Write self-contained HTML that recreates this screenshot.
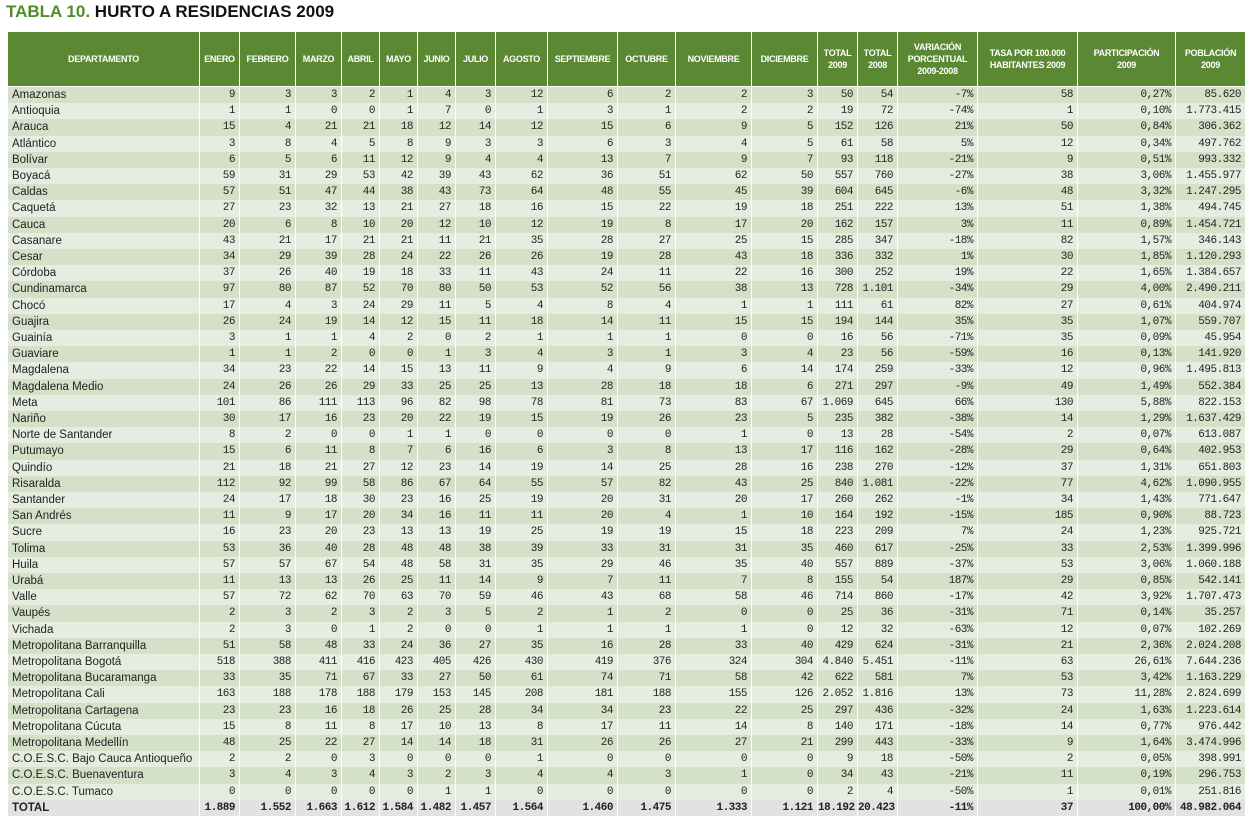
<!DOCTYPE html>
<html><head><meta charset="utf-8">
<style>
body{margin:0;width:1251px;height:819px;background:#fff;position:relative;overflow:hidden;font-family:"Liberation Sans",sans-serif}
#title{position:absolute;left:6px;top:2px;font-size:17px;font-weight:bold;color:#111;white-space:nowrap}
#title span{color:#4f8a2b}
.c{position:absolute;box-sizing:border-box;border-right:1px solid #fff;white-space:nowrap;overflow:hidden}
.h{background:#5a8833;color:#fff;font-weight:bold;font-size:9px;display:flex;align-items:center;justify-content:center;text-align:center;line-height:12px;letter-spacing:-0.3px}
.b{font-size:11px;text-align:right;padding-right:4px;line-height:16px;color:#222;font-family:"Liberation Mono",monospace;letter-spacing:-0.5px}
.n{font-size:11.5px;text-align:left;padding-left:4px;line-height:16px;color:#222;font-family:"Liberation Sans",sans-serif;letter-spacing:0}
.t{font-weight:bold}
</style></head><body>
<div id="title"><span>TABLA 10.</span> HURTO A RESIDENCIAS 2009</div>
<div id="tbl"></div>
<script>
const headers=["DEPARTAMENTO","ENERO","FEBRERO","MARZO","ABRIL","MAYO","JUNIO","JULIO","AGOSTO","SEPTIEMBRE","OCTUBRE","NOVIEMBRE","DICIEMBRE","TOTAL<br>2009","TOTAL<br>2008","VARIACIÓN<br>PORCENTUAL<br>2009-2008","TASA POR 100.000<br>HABITANTES 2009","PARTICIPACIÓN<br>2009","POBLACIÓN<br>2009"];
const rows=`Amazonas|9 3 3 2 1 4 3 12 6 2 2 3 50 54 -7% 58 0,27% 85.620
Antioquia|1 1 0 0 1 7 0 1 3 1 2 2 19 72 -74% 1 0,10% 1.773.415
Arauca|15 4 21 21 18 12 14 12 15 6 9 5 152 126 21% 50 0,84% 306.362
Atlántico|3 8 4 5 8 9 3 3 6 3 4 5 61 58 5% 12 0,34% 497.762
Bolívar|6 5 6 11 12 9 4 4 13 7 9 7 93 118 -21% 9 0,51% 993.332
Boyacá|59 31 29 53 42 39 43 62 36 51 62 50 557 760 -27% 38 3,06% 1.455.977
Caldas|57 51 47 44 38 43 73 64 48 55 45 39 604 645 -6% 48 3,32% 1.247.295
Caquetá|27 23 32 13 21 27 18 16 15 22 19 18 251 222 13% 51 1,38% 494.745
Cauca|20 6 8 10 20 12 10 12 19 8 17 20 162 157 3% 11 0,89% 1.454.721
Casanare|43 21 17 21 21 11 21 35 28 27 25 15 285 347 -18% 82 1,57% 346.143
Cesar|34 29 39 28 24 22 26 26 19 28 43 18 336 332 1% 30 1,85% 1.120.293
Córdoba|37 26 40 19 18 33 11 43 24 11 22 16 300 252 19% 22 1,65% 1.384.657
Cundinamarca|97 80 87 52 70 80 50 53 52 56 38 13 728 1.101 -34% 29 4,00% 2.490.211
Chocó|17 4 3 24 29 11 5 4 8 4 1 1 111 61 82% 27 0,61% 404.974
Guajira|26 24 19 14 12 15 11 18 14 11 15 15 194 144 35% 35 1,07% 559.707
Guainía|3 1 1 4 2 0 2 1 1 1 0 0 16 56 -71% 35 0,09% 45.954
Guaviare|1 1 2 0 0 1 3 4 3 1 3 4 23 56 -59% 16 0,13% 141.920
Magdalena|34 23 22 14 15 13 11 9 4 9 6 14 174 259 -33% 12 0,96% 1.495.813
Magdalena Medio|24 26 26 29 33 25 25 13 28 18 18 6 271 297 -9% 49 1,49% 552.384
Meta|101 86 111 113 96 82 98 78 81 73 83 67 1.069 645 66% 130 5,88% 822.153
Nariño|30 17 16 23 20 22 19 15 19 26 23 5 235 382 -38% 14 1,29% 1.637.429
Norte de Santander|8 2 0 0 1 1 0 0 0 0 1 0 13 28 -54% 2 0,07% 613.087
Putumayo|15 6 11 8 7 6 16 6 3 8 13 17 116 162 -28% 29 0,64% 402.953
Quindío|21 18 21 27 12 23 14 19 14 25 28 16 238 270 -12% 37 1,31% 651.803
Risaralda|112 92 99 58 86 67 64 55 57 82 43 25 840 1.081 -22% 77 4,62% 1.090.955
Santander|24 17 18 30 23 16 25 19 20 31 20 17 260 262 -1% 34 1,43% 771.647
San Andrés|11 9 17 20 34 16 11 11 20 4 1 10 164 192 -15% 185 0,90% 88.723
Sucre|16 23 20 23 13 13 19 25 19 19 15 18 223 209 7% 24 1,23% 925.721
Tolima|53 36 40 28 48 48 38 39 33 31 31 35 460 617 -25% 33 2,53% 1.399.996
Huila|57 57 67 54 48 58 31 35 29 46 35 40 557 889 -37% 53 3,06% 1.060.188
Urabá|11 13 13 26 25 11 14 9 7 11 7 8 155 54 187% 29 0,85% 542.141
Valle|57 72 62 70 63 70 59 46 43 68 58 46 714 860 -17% 42 3,92% 1.707.473
Vaupés|2 3 2 3 2 3 5 2 1 2 0 0 25 36 -31% 71 0,14% 35.257
Vichada|2 3 0 1 2 0 0 1 1 1 1 0 12 32 -63% 12 0,07% 102.269
Metropolitana Barranquilla|51 58 48 33 24 36 27 35 16 28 33 40 429 624 -31% 21 2,36% 2.024.208
Metropolitana Bogotá|518 388 411 416 423 405 426 430 419 376 324 304 4.840 5.451 -11% 63 26,61% 7.644.236
Metropolitana Bucaramanga|33 35 71 67 33 27 50 61 74 71 58 42 622 581 7% 53 3,42% 1.163.229
Metropolitana Cali|163 188 178 188 179 153 145 208 181 188 155 126 2.052 1.816 13% 73 11,28% 2.824.699
Metropolitana Cartagena|23 23 16 18 26 25 28 34 34 23 22 25 297 436 -32% 24 1,63% 1.223.614
Metropolitana Cúcuta|15 8 11 8 17 10 13 8 17 11 14 8 140 171 -18% 14 0,77% 976.442
Metropolitana Medellín|48 25 22 27 14 14 18 31 26 26 27 21 299 443 -33% 9 1,64% 3.474.996
C.O.E.S.C. Bajo Cauca Antioqueño|2 2 0 3 0 0 0 1 0 0 0 0 9 18 -50% 2 0,05% 398.991
C.O.E.S.C. Buenaventura|3 4 3 4 3 2 3 4 4 3 1 0 34 43 -21% 11 0,19% 296.753
C.O.E.S.C. Tumaco|0 0 0 0 0 1 1 0 0 0 0 0 2 4 -50% 1 0,01% 251.816
TOTAL|1.889 1.552 1.663 1.612 1.584 1.482 1.457 1.564 1.460 1.475 1.333 1.121 18.192 20.423 -11% 37 100,00% 48.982.064`.split("\n");
const edges=[8,200,240,296,342,380,418,456,496,548,618,676,752,818,858,898,978,1078,1176,1246];
const tbl=document.getElementById('tbl');
function cell(x0,x1,y,h,cls,html){const d=document.createElement('div');d.className='c '+cls;d.style.left=x0+'px';d.style.width=(x1-x0)+'px';d.style.top=y+'px';d.style.height=h+'px';d.innerHTML=html;tbl.appendChild(d);return d;}
headers.forEach((t,i)=>{const d=cell(edges[i],edges[i+1],32,54,'h',t);

});
const rh=16.2;
rows.forEach((r,ri)=>{const [name,vals]=r.split('|');const v=vals.split(' ');const y=87+ri*rh;const isT=name==='TOTAL';
const bg=isT?'#e2e2e2':(ri%2===0?'#d5e0c9':'#e6ecdf');
const n=cell(edges[0],edges[1],y,rh,'n'+(isT?' t':''),name);n.style.background=bg;


v.forEach((val,ci)=>{const c=cell(edges[ci+1],edges[ci+2],y,rh,'b'+(isT?' t':''),val);c.style.background=bg;

});});
</script>
</body></html>
